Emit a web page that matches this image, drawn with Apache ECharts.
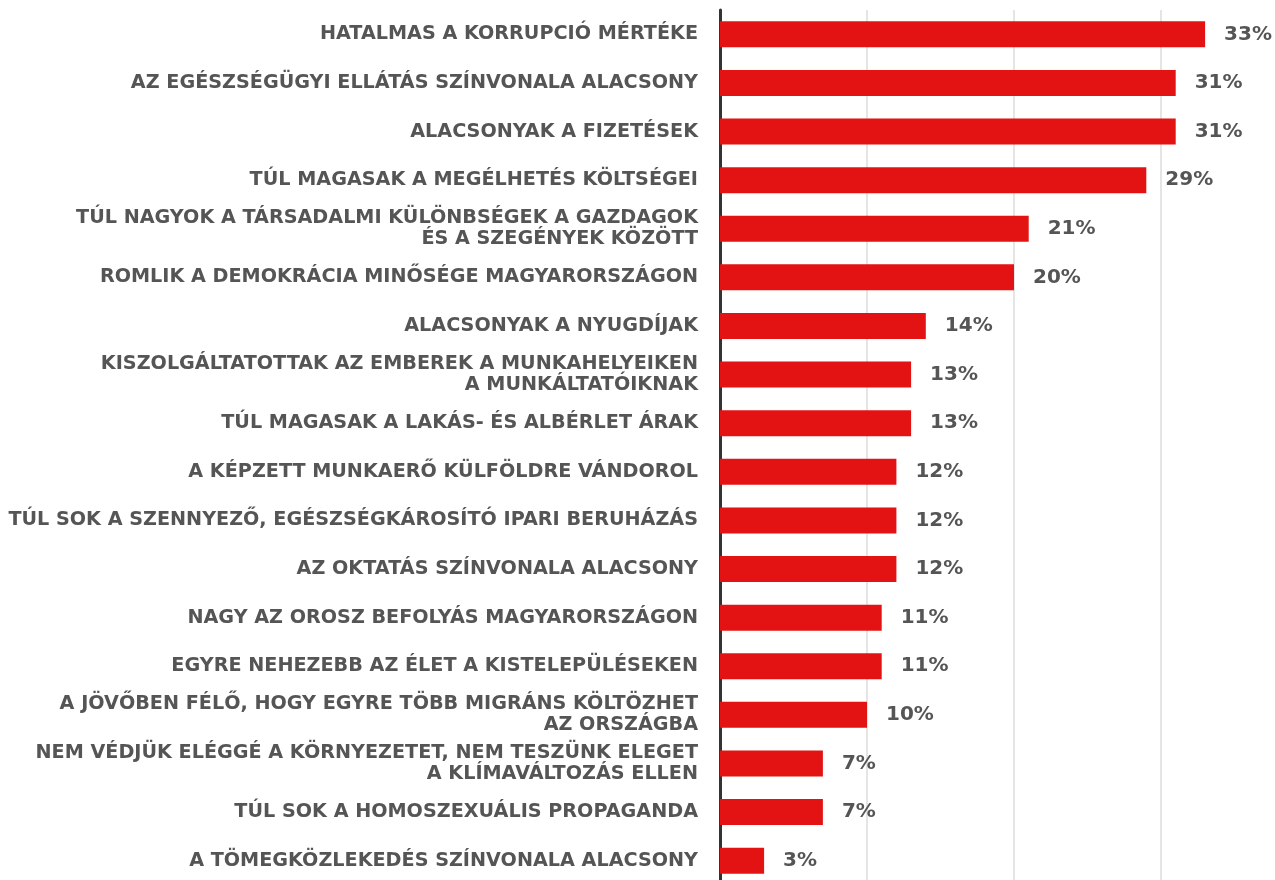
<!DOCTYPE html>
<html lang="hu">

<head>
    <meta charset="UTF-8">
    <title>Problémák</title>
    <script src="https://cdn.jsdelivr.net/npm/echarts@6/dist/echarts.min.js"></script>
    <style>
        html, body { margin: 0; padding: 0; background: #fff; }
        #chart { width: 1275px; height: 880px; }
    </style>
</head>

<body>
    <div id="chart"></div>
    <script>
        var categories = [
            'HATALMAS A KORRUPCIÓ MÉRTÉKE',
            'AZ EGÉSZSÉGÜGYI ELLÁTÁS SZÍNVONALA ALACSONY',
            'ALACSONYAK A FIZETÉSEK',
            'TÚL MAGASAK A MEGÉLHETÉS KÖLTSÉGEI',
            'TÚL NAGYOK A TÁRSADALMI KÜLÖNBSÉGEK A GAZDAGOK\nÉS A SZEGÉNYEK KÖZÖTT',
            'ROMLIK A DEMOKRÁCIA MINŐSÉGE MAGYARORSZÁGON',
            'ALACSONYAK A NYUGDÍJAK',
            'KISZOLGÁLTATOTTAK AZ EMBEREK A MUNKAHELYEIKEN\nA MUNKÁLTATÓIKNAK',
            'TÚL MAGASAK A LAKÁS- ÉS ALBÉRLET ÁRAK',
            'A KÉPZETT MUNKAERŐ KÜLFÖLDRE VÁNDOROL',
            'TÚL SOK A SZENNYEZŐ, EGÉSZSÉGKÁROSÍTÓ IPARI BERUHÁZÁS',
            'AZ OKTATÁS SZÍNVONALA ALACSONY',
            'NAGY AZ OROSZ BEFOLYÁS MAGYARORSZÁGON',
            'EGYRE NEHEZEBB AZ ÉLET A KISTELEPÜLÉSEKEN',
            'A JÖVŐBEN FÉLŐ, HOGY EGYRE TÖBB MIGRÁNS KÖLTÖZHET\nAZ ORSZÁGBA',
            'NEM VÉDJÜK ELÉGGÉ A KÖRNYEZETET, NEM TESZÜNK ELEGET\nA KLÍMAVÁLTOZÁS ELLEN',
            'TÚL SOK A HOMOSZEXUÁLIS PROPAGANDA',
            'A TÖMEGKÖZLEKEDÉS SZÍNVONALA ALACSONY'
        ];
        var values = [33, 31, 31, 29, 21, 20, 14, 13, 13, 12, 12, 12, 11, 11, 10, 7, 7, 3];

        var textColor = '#555555';
        var chart = echarts.init(document.getElementById('chart'));
        chart.setOption({
            animation: false,
            grid: {
                left: 720,
                width: 588,
                top: 10,
                height: 875,
                outerBoundsMode: 'none'
            },
            xAxis: {
                type: 'value',
                min: 0,
                max: 40,
                interval: 10,
                axisLabel: { show: false },
                axisLine: { show: false },
                axisTick: { show: false },
                splitLine: { lineStyle: { color: '#dcdcdc', width: 1.5 } }
            },
            yAxis: {
                type: 'category',
                inverse: true,
                data: categories,
                axisLine: { lineStyle: { color: '#333', width: 3 } },
                axisTick: { show: false },
                axisLabel: {
                    margin: 22,
                    color: textColor,
                    fontFamily: 'DejaVu Sans',
                    fontWeight: 'bold',
                    fontSize: 19.2,
                    lineHeight: 21,
                    align: 'right'
                }
            },
            series: [{
                type: 'bar',
                data: values,
                barWidth: 26,
                itemStyle: { color: '#e31313' },
                label: {
                    show: true,
                    position: 'right',
                    distance: 19,
                    formatter: '{c}%',
                    color: textColor,
                    fontFamily: 'DejaVu Sans',
                    fontWeight: 'bold',
                    fontSize: 20
                }
            }]
        });
    </script>
</body>

</html>
